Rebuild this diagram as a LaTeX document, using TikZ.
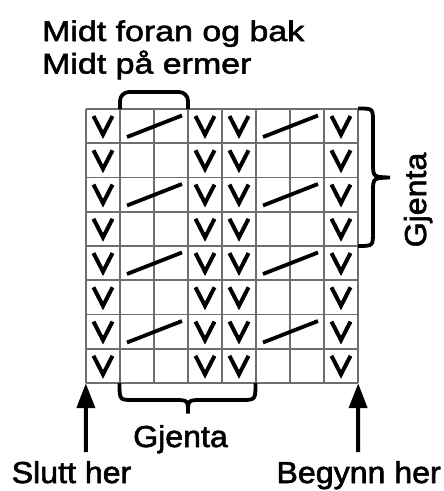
\documentclass[tikz,border=0pt]{standalone}
\usepackage{fontspec}
\setmainfont{Liberation Sans}
\newfontfamily\hdrfont[FakeStretch=1.19,FakeBold=2]{Liberation Sans}
\newfontfamily\lblfont[FakeStretch=1.06,FakeBold=2]{Liberation Sans}
\usetikzlibrary{arrows.meta}
\definecolor{gridgray}{RGB}{110,110,110}
\tikzset{
  gridline/.style={draw=gridgray, line width=1.6pt},
  vline/.style={draw=black, line width=4pt, line join=miter, line cap=butt},
  slash/.style={draw=black, line width=3.8pt},
  bracket/.style={draw=black, line width=3.8pt},
  arrowline/.style={draw=black, line width=4pt, -{Triangle[length=25pt,width=18pt]}},
  hdr/.style={inner sep=0pt, font=\hdrfont\fontsize{28.5}{32}\selectfont},
  lbl/.style={inner sep=0pt, font=\lblfont\fontsize{30.3}{34}\selectfont},
}
\begin{document}
\begin{tikzpicture}[x=1pt,y=-1pt]
\useasboundingbox (0,0) rectangle (444,491);
% chart frame
\node[inner sep=0pt, minimum width=272pt, minimum height=274pt] (chart) at (222,246) {};
\foreach \i in {0,...,8} {
  \draw[gridline] (86+34*\i,109) -- (86+34*\i,383);
  \draw[gridline] (86,109+34.25*\i) -- (358,109+34.25*\i);
}
% V stitches in columns 1,4,5,8
\foreach \r in {0,...,7} {
  \foreach \c in {0,3,4,7} {
    \pgfmathsetmacro{\cx}{103+34*\c}
    \pgfmathsetmacro{\cy}{126.1+34.25*\r}
    \draw[vline] (\cx-9.5,\cy-10) -- (\cx,\cy+8.5) -- (\cx+9.5,\cy-10);
  }
}
% slanted two-cell stitches in rows 1,3,5,7
\foreach \r in {0,2,4,6} {
  \foreach \c in {1,5} {
    \pgfmathsetmacro{\xo}{86+34*\c}
    \pgfmathsetmacro{\yo}{109+34.25*\r}
    \draw[slash] (\xo+7,\yo+28) -- (\xo+62,\yo+6.5);
  }
}
% top bracket
\draw[bracket, rounded corners=9pt] (120,109) -- (120,92) -- (188,92) -- (188,109);
% right brace
\draw[bracket] (358,108.5) .. controls (373,108.5) .. (373,122) -- (373,163)
  .. controls (373,177) .. (390,177.5) .. controls (373,178) .. (373,192)
  -- (373,232) .. controls (373,246) .. (358,246);
% bottom brace
\draw[bracket] (119.5,383) .. controls (119.5,400) .. (133,400) -- (174,400)
  .. controls (188,400) .. (188,413.5) .. controls (188,400) .. (202,400)
  -- (241,400) .. controls (255.5,400) .. (255.5,383);
% texts
\node[hdr, anchor=base west] (t1) at (42,41) {Midt foran og bak};
\node[hdr, anchor=base west] (t2) at (42,73.5) {Midt på ermer};
\node[lbl, anchor=base] (gj1) at (180.5,447) {Gjenta};
\node[lbl, anchor=base, rotate=90] (gj2) at (426,200) {Gjenta};
\node[lbl, anchor=base west] (slutt) at (11.5,483) {Slutt her};
\node[lbl, anchor=base east] (begynn) at (441,483) {Begynn her};
% arrows
\coordinate (sluttfoot) at (86,452);
\coordinate (begynnfoot) at (358,452);
\draw[arrowline] (sluttfoot) -- (chart.south west);
\draw[arrowline] (begynnfoot) -- (chart.south east);
\end{tikzpicture}
\end{document}
